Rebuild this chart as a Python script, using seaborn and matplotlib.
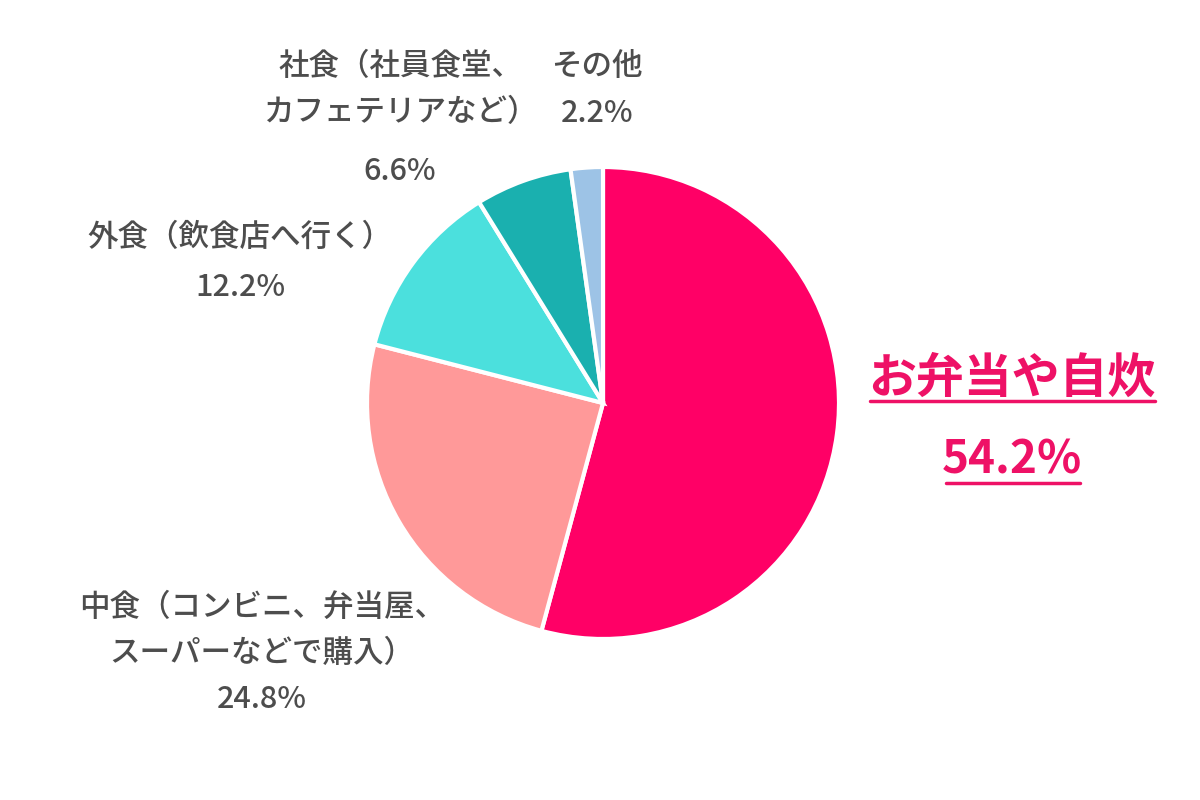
import seaborn as sns
import matplotlib.pyplot as plt

# data
categories = ['お弁当や自炊', '中食（コンビニ、弁当屋、\nスーパーなどで購入）',
              '外食（飲食店へ行く）', '社食（社員食堂、\nカフェテリアなど）', 'その他']
values = [54.2, 24.8, 12.2, 6.6, 2.2]
colors = ['#FF0066', '#FF9999', '#4BE0DD', '#1AB0AF', '#9DC3E6']

sns.set_style('white')
plt.rcParams['font.family'] = ['Noto Sans CJK JP', 'DejaVu Sans']

fig = plt.figure(figsize=(12, 8), dpi=100)
ax = fig.add_axes([0, 0, 1, 1])
ax.set_xlim(0, 1200)
ax.set_ylim(800, 0)
ax.set_aspect('equal')
ax.axis('off')

# pie (y axis is inverted, so counterclock=True draws clockwise on screen)
ax.pie(values, colors=colors, startangle=-90, counterclock=True,
       center=(603, 403), radius=236,
       wedgeprops=dict(edgecolor='white', linewidth=3))
ax.set_xlim(0, 1200)
ax.set_ylim(800, 0)

gray = '#4D4D4D'
pink = '#EE1166'

def label(lines, x, ys, **kw):
    for line, y in zip(lines, ys):
        ax.text(x, y, line, ha='center', va='center', **kw)

# small labels
for i, (x, ys) in enumerate([(262, [607, 653, 700]),
                             (240, [237, 287]),
                             (400, [66, 113, 172]),
                             (597, [66, 113])]):
    idx = i + 1
    lines = categories[idx].split('\n') + [f'{values[idx]}%']
    label(lines, x, ys, fontsize=22, color=gray, fontweight='medium')

# main highlighted label
ax.text(1012, 378, categories[0], ha='center', va='center',
        fontsize=34.5, fontweight='bold', color=pink)
ax.text(1012, 460, f'{values[0]}%', ha='center', va='center',
        fontsize=33, fontweight='bold', color=pink)
ax.plot([870, 1155], [401, 401], color=pink, lw=2.5)
ax.plot([946, 1080], [483, 483], color=pink, lw=2.5)

fig.savefig('out.png', dpi=100)
